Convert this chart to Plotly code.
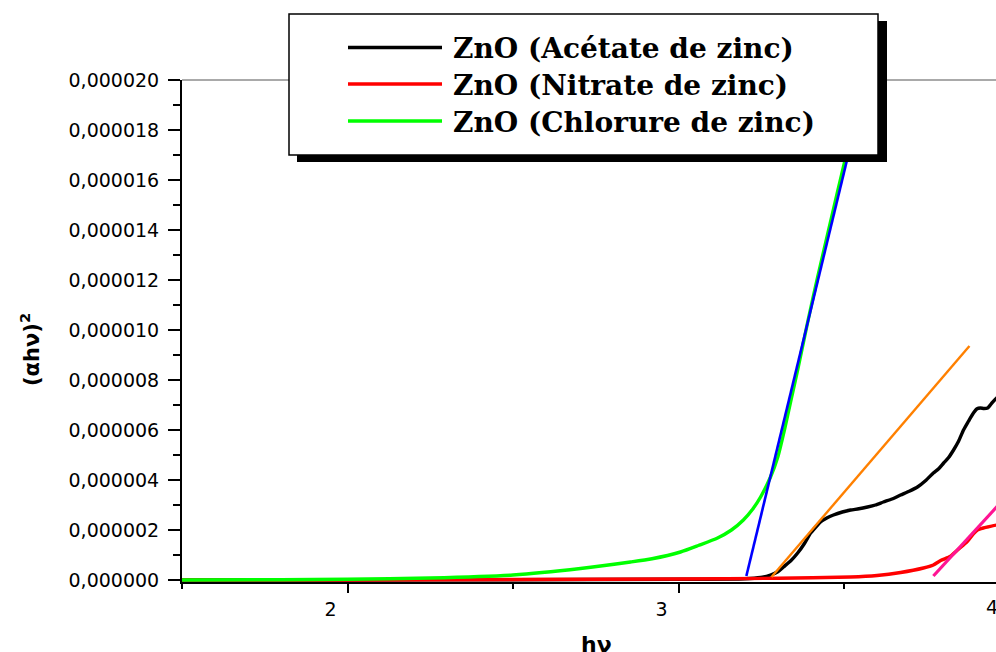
import plotly.graph_objects as go

# ---------------- data (values in units of 1e-6) ----------------
series_names = ["ZnO (Acétate de zinc)", "ZnO (Nitrate de zinc)", "ZnO (Chlorure de zinc)"]
series_colors = ["#000000", "#ff0000", "#00ff00"]

acetate_x = [1.5, 2.0, 2.5, 3.0, 3.2, 3.248, 3.278, 3.3, 3.317, 3.34, 3.36, 3.38, 3.399, 3.415, 3.429,
             3.448, 3.468, 3.495, 3.52, 3.545, 3.571, 3.595, 3.619, 3.645, 3.671, 3.697, 3.722, 3.746,
             3.77, 3.786, 3.801, 3.816, 3.831, 3.846, 3.861, 3.876, 3.891, 3.902, 3.912, 3.923, 3.934,
             3.948, 3.961, 3.99]
acetate_y = [0.0, 0.0, 0.01, 0.03, 0.05, 0.1, 0.2, 0.33, 0.52, 0.78, 1.08, 1.45, 1.88, 2.12, 2.32,
             2.48, 2.6, 2.72, 2.8, 2.85, 2.92, 3.0, 3.12, 3.24, 3.4, 3.55, 3.72, 3.97,
             4.28, 4.45, 4.68, 4.9, 5.2, 5.55, 6.0, 6.35, 6.68, 6.85, 6.88, 6.86, 6.88,
             7.1, 7.28, 7.5]

nitrate_x = [1.5, 2.0, 2.5, 3.0, 3.3, 3.52, 3.6, 3.671, 3.74, 3.77, 3.792, 3.822, 3.843, 3.873,
             3.891, 3.903, 3.921, 3.934, 3.961, 3.99]
nitrate_y = [0.0, 0.0, 0.02, 0.04, 0.07, 0.12, 0.18, 0.3, 0.48, 0.6, 0.78, 0.95, 1.2, 1.55,
             1.85, 2.0, 2.08, 2.12, 2.2, 2.25]

chlorure_x = [1.5, 1.8, 2.0, 2.25, 2.5, 2.704, 2.855, 2.92, 3.006, 3.06, 3.118, 3.16, 3.196, 3.225,
              3.248, 3.278, 3.3, 3.32, 3.34, 3.36, 3.39, 3.42, 3.45, 3.48, 3.505, 3.53, 3.56, 3.6]
chlorure_y = [0.0, 0.01, 0.03, 0.08, 0.2, 0.46, 0.72, 0.85, 1.12, 1.38, 1.68, 2.0, 2.4, 2.85,
              3.32, 4.12, 4.92, 6.0, 7.2, 8.4, 10.3, 12.1, 13.8, 15.5, 16.9, 18.3, 20.0, 22.4]

# linear fits (tangent lines): [x0, x1], [y0, y1]
fit_blue_x = [3.205, 3.53]
fit_blue_y = [0.16, 17.94]
fit_orange_x = [3.281, 3.879]
fit_orange_y = [0.12, 9.36]
fit_pink_x = [3.77, 4.0]
fit_pink_y = [0.16, 3.48]

y_tick_vals = [0, 2, 4, 6, 8, 10, 12, 14, 16, 18, 20]
y_tick_text = ["0,000000", "0,000002", "0,000004", "0,000006", "0,000008", "0,000010",
               "0,000012", "0,000014", "0,000016", "0,000018", "0,000020"]

SCALE = 1e-6

W, H = 996, 652
L, R, T, B = 182, 0, 80, 70


def px(p):
    return (p - L) / (W - L - R)


def py(p):
    return (H - B - p) / (H - T - B)


fig = go.Figure()

for xs, ys, name, col in [(acetate_x, acetate_y, series_names[0], series_colors[0]),
                          (nitrate_x, nitrate_y, series_names[1], series_colors[1]),
                          (chlorure_x, chlorure_y, series_names[2], series_colors[2])]:
    fig.add_trace(go.Scatter(x=xs, y=[v * SCALE for v in ys], mode="lines", name=name,
                             line=dict(color=col, width=3.4, shape="spline", smoothing=0.6),
                             showlegend=False))

for xs, ys, col, w in [(fit_blue_x, fit_blue_y, "#0000ff", 2.6),
                       (fit_orange_x, fit_orange_y, "#ff8000", 2.4),
                       (fit_pink_x, fit_pink_y, "#ff1493", 3.2)]:
    fig.add_trace(go.Scatter(x=xs, y=[v * SCALE for v in ys], mode="lines",
                             line=dict(color=col, width=w), showlegend=False, hoverinfo="skip"))

shapes = []
# top frame line
shapes.append(dict(type="line", xref="paper", yref="paper", x0=0, x1=1.01, y0=1, y1=1,
                   line=dict(color="#555555", width=1)))
# legend shadow and box
shapes.append(dict(type="rect", xref="paper", yref="paper", x0=px(297), x1=px(887), y0=py(21), y1=py(162),
                   fillcolor="black", line=dict(width=0)))
shapes.append(dict(type="rect", xref="paper", yref="paper", x0=px(289), x1=px(878), y0=py(14), y1=py(155),
                   fillcolor="white", line=dict(color="black", width=1.5)))
annotations = []
leg_y = [47.5, 84, 121]
for i in range(3):
    shapes.append(dict(type="line", xref="paper", yref="paper", x0=px(348), x1=px(442),
                       y0=py(leg_y[i]), y1=py(leg_y[i]), line=dict(color=series_colors[i], width=3.4)))
    annotations.append(dict(xref="paper", yref="paper", x=px(451), y=py(leg_y[i] + 1), xanchor="left",
                            yanchor="middle", showarrow=False, text="<b>" + series_names[i] + "</b>",
                            font=dict(family="DejaVu Serif", size=28, color="black")))

# axis titles
annotations.append(dict(xref="paper", yref="paper", x=px(30), y=py(350), textangle=-90, showarrow=False,
                        text="<b>(αhν)<sup>2</sup></b>", xanchor="center", yanchor="middle",
                        font=dict(family="DejaVu Sans", size=21, color="black")))
annotations.append(dict(xref="paper", yref="paper", x=px(596), y=py(630), showarrow=False,
                        text="<b>hν</b>", xanchor="center", yanchor="top",
                        font=dict(family="DejaVu Sans", size=22, color="black")))
# the "4" tick label sitting at the clipped right edge
annotations.append(dict(xref="paper", yref="paper", x=px(992), y=py(607), showarrow=False,
                        text="4", xanchor="center", yanchor="middle",
                        font=dict(family="DejaVu Sans", size=19, color="black")))

fig.update_layout(
    width=W, height=H,
    margin=dict(l=L, r=R, t=T, b=B, pad=0),
    paper_bgcolor="white", plot_bgcolor="white",
    shapes=shapes, annotations=annotations,
    showlegend=False,
)
fig.update_xaxes(range=[1.5, 1.5 + (W - L - R) / 331.0], tickmode="linear", tick0=0, dtick=1,
                 ticks="outside", ticklen=9, tickwidth=2, tickcolor="black",
                 showline=True, linewidth=2, linecolor="black", showgrid=False, zeroline=False,
                 ticklabelshift=-17,
                 tickfont=dict(family="DejaVu Sans", size=19, color="black"),
                 minor=dict(tickmode="linear", tick0=0, dtick=0.5, ticks="outside", ticklen=5,
                            tickwidth=2, tickcolor="black"))
fig.update_yaxes(range=[-0.08 * SCALE, 20 * SCALE], tickmode="array",
                 tickvals=[v * SCALE for v in y_tick_vals], ticktext=y_tick_text,
                 ticks="outside", ticklen=12, tickwidth=2, tickcolor="black",
                 showline=True, linewidth=2, linecolor="black", showgrid=False, zeroline=False,
                 ticklabelstandoff=5,
                 tickfont=dict(family="DejaVu Sans", size=19, color="black"),
                 minor=dict(tickmode="linear", tick0=0, dtick=1 * SCALE, ticks="outside", ticklen=7,
                            tickwidth=2, tickcolor="black"))

fig.write_html("out.html")
